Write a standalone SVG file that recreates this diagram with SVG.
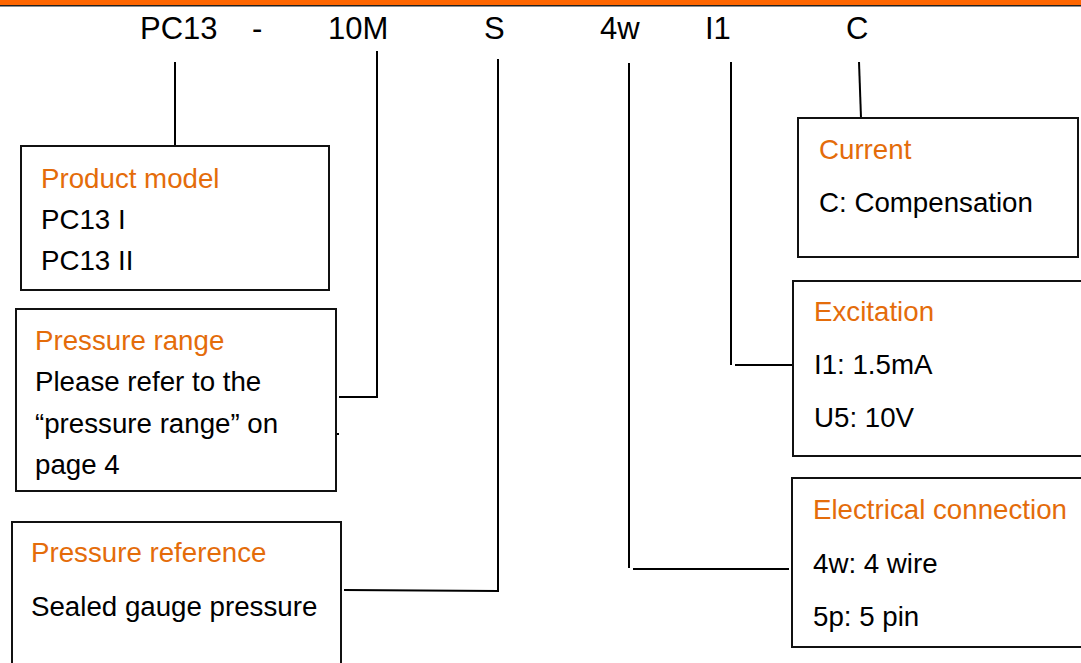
<svg xmlns="http://www.w3.org/2000/svg" width="1081" height="663" viewBox="0 0 1081 663">
<style>
.bg{fill:#fff}
.box{fill:#fff;stroke:#111;stroke-width:2}
.ln{fill:none;stroke:#000;stroke-width:2}
.code{font-family:"Liberation Sans",Arial,sans-serif;font-size:31px;fill:#000}
.hd{font-family:"Liberation Sans",Arial,sans-serif;font-size:27.7px;fill:#E46C0A}
.tx{font-family:"Liberation Sans",Arial,sans-serif;font-size:27.7px;fill:#000}
</style>
<rect class="bg" x="0" y="0" width="1081" height="663"/>
<rect x="0" y="0" width="1081" height="5" fill="#FF6600"/>
<rect x="0" y="5" width="1081" height="1.5" fill="#222"/>
<g id="code">
<text class="code" x="140" y="39">PC13</text>
<text class="code" x="252" y="39">-</text>
<text class="code" x="328" y="39">10M</text>
<text class="code" x="484" y="39">S</text>
<text class="code" x="600" y="39">4w</text>
<text class="code" x="705" y="39">I1</text>
<text class="code" x="846" y="39">C</text>
</g>
<g id="connectors">
<line class="ln" x1="175" y1="62" x2="175" y2="146"/>
<polyline class="ln" points="377,51 377,397 339,397"/>
<line class="ln" x1="337" y1="434" x2="339" y2="434"/>
<polyline class="ln" points="498,59 498,591 344,590"/>
<polyline class="ln" points="629,63 629,568"/>
<line class="ln" x1="633" y1="569" x2="789" y2="569"/>
<polyline class="ln" points="731,62 731,365"/>
<line class="ln" x1="735" y1="365" x2="793" y2="365"/>
<line class="ln" x1="859" y1="62" x2="861" y2="118"/>
</g>
<g id="product-model">
<rect class="box" x="21" y="146" width="308" height="144"/>
<text class="hd" x="41" y="188">Product model</text>
<text class="tx" x="41" y="229">PC13 I</text>
<text class="tx" x="41" y="270">PC13 II</text>
</g>
<g id="pressure-range">
<rect class="box" x="16" y="309" width="320" height="182"/>
<text class="hd" x="35" y="350">Pressure range</text>
<text class="tx" x="35" y="391">Please refer to the</text>
<text class="tx" x="35" y="433">“pressure range” on</text>
<text class="tx" x="35" y="474">page 4</text>
</g>
<g id="pressure-reference">
<rect class="box" x="12" y="522" width="329" height="160"/>
<text class="hd" x="31" y="562">Pressure reference</text>
<text class="tx" x="31" y="616">Sealed gauge pressure</text>
</g>
<g id="current">
<rect class="box" x="798" y="118" width="280" height="139"/>
<text class="hd" x="819" y="159">Current</text>
<text class="tx" x="819" y="212">C: Compensation</text>
</g>
<g id="excitation">
<rect class="box" x="793" y="281" width="300" height="175"/>
<text class="hd" x="814" y="321">Excitation</text>
<text class="tx" x="814" y="374">I1: 1.5mA</text>
<text class="tx" x="814" y="427">U5: 10V</text>
</g>
<g id="electrical-connection">
<rect class="box" x="792" y="478" width="300" height="169"/>
<text class="hd" x="813" y="519">Electrical connection</text>
<text class="tx" x="813" y="573">4w: 4 wire</text>
<text class="tx" x="813" y="626">5p: 5 pin</text>
</g>
</svg>
